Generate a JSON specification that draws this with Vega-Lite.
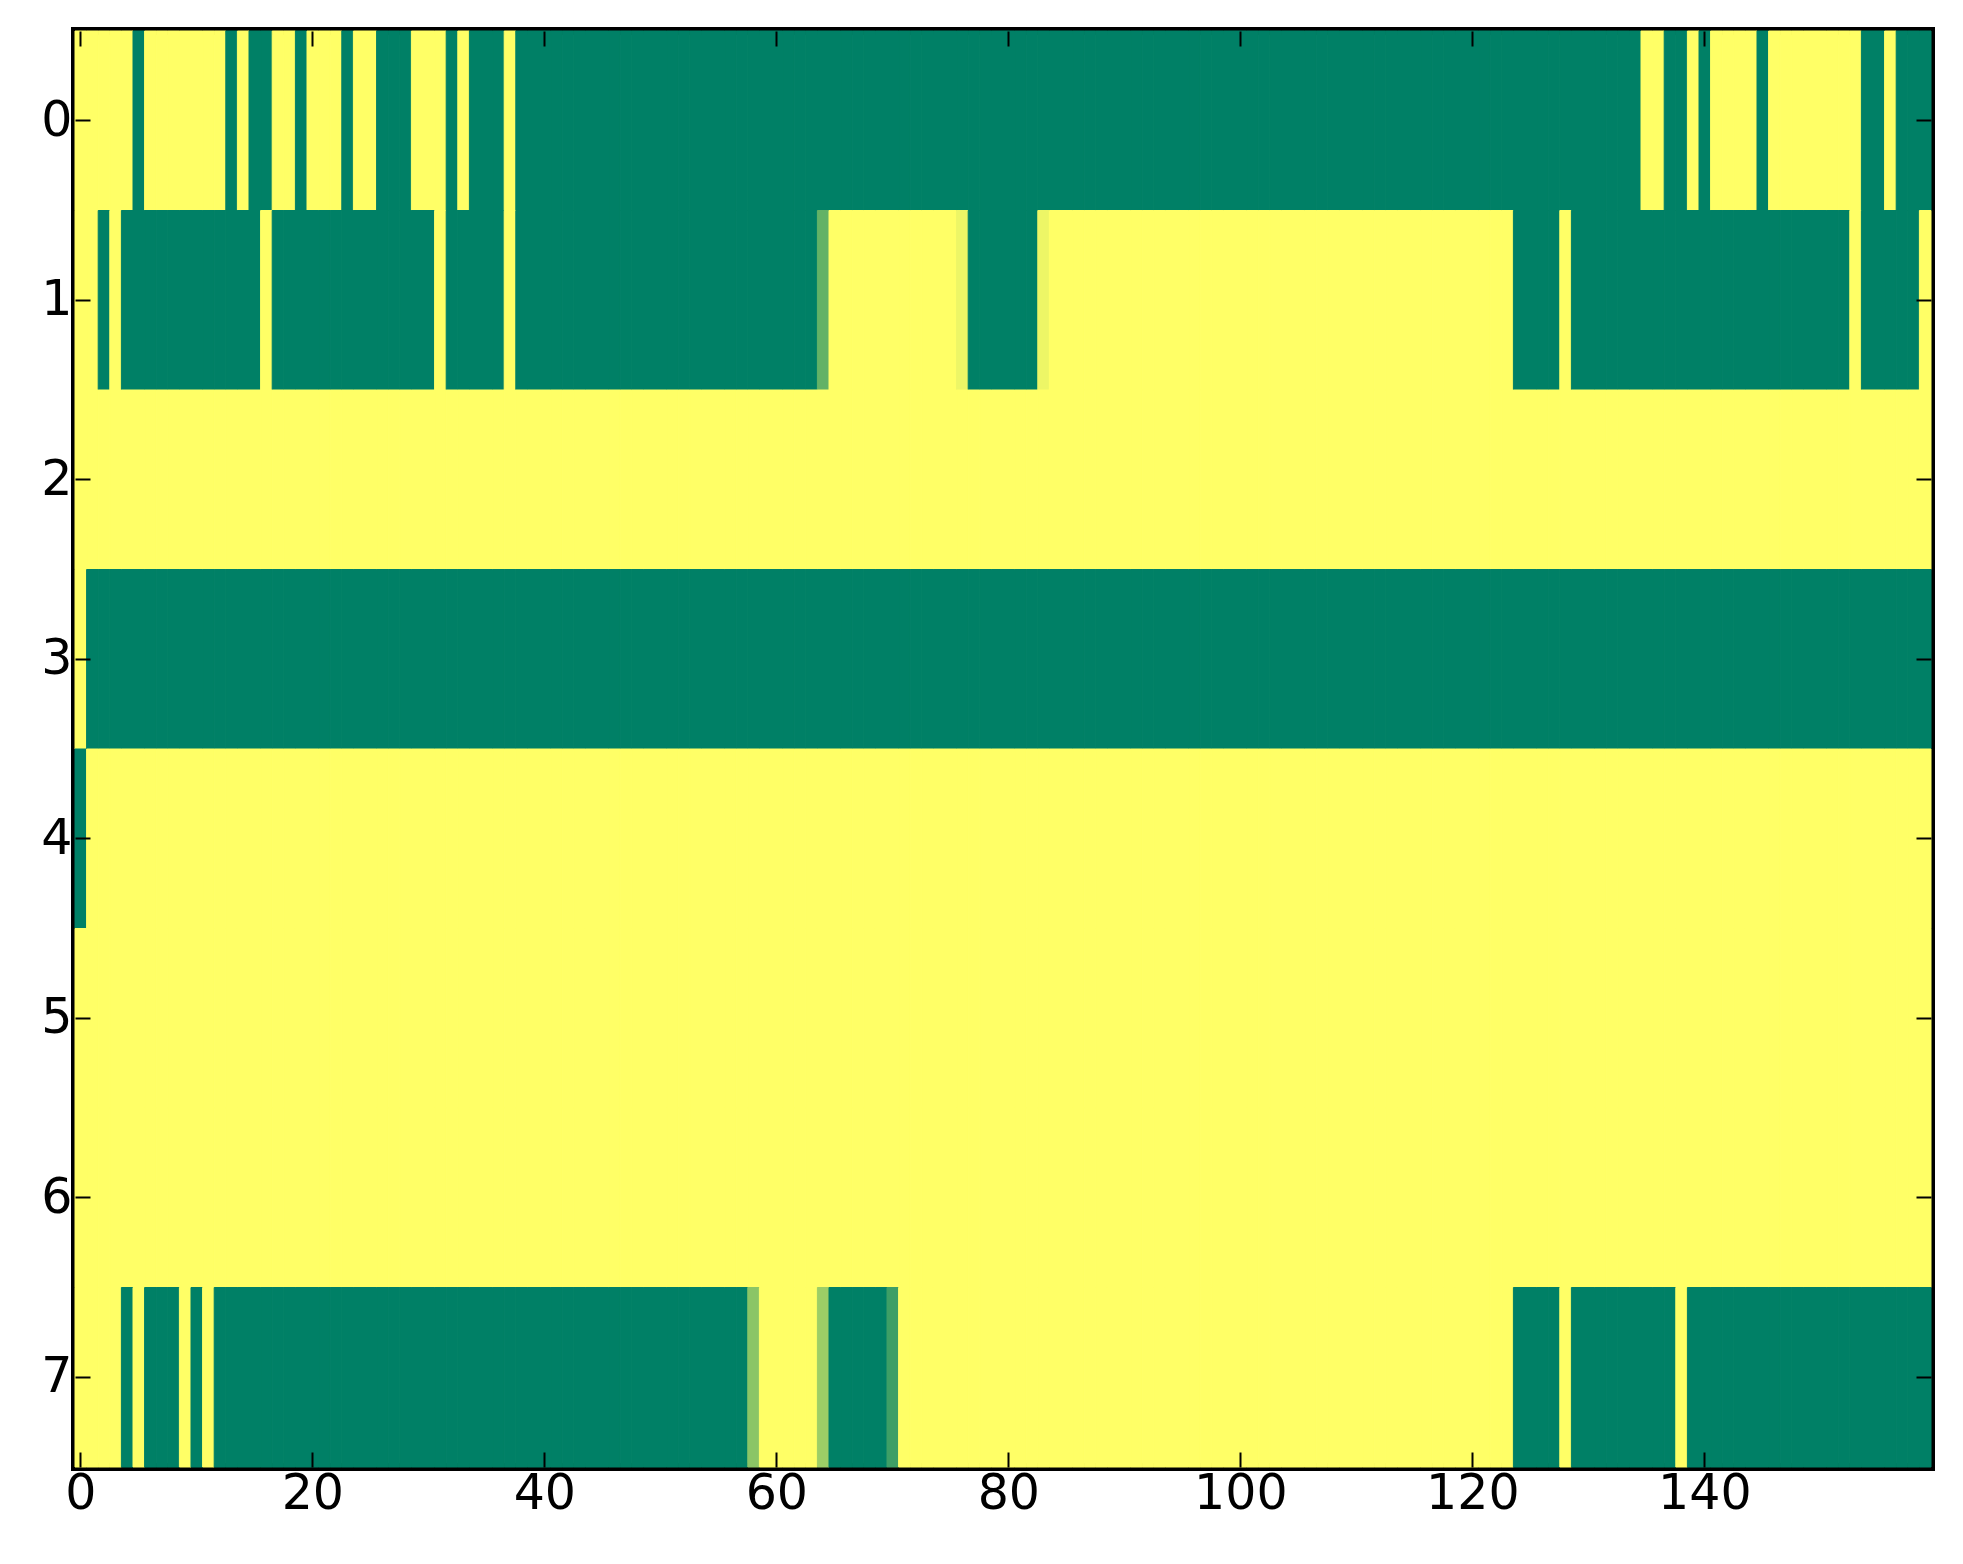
{"$schema":"https://vega.github.io/schema/vega-lite/v6.json","autosize":{"type":"none"},"width":1856,"height":1436,"padding":{"left":75,"top":31,"right":32,"bottom":97},"background":"white","config":{"view":{"stroke":"#000000","strokeWidth":8},"font":"DejaVu Sans"},
"data":{"values":[
{"r":0,"c":0,"v":1},{"r":0,"c":1,"v":1},{"r":0,"c":2,"v":1},{"r":0,"c":3,"v":1},{"r":0,"c":4,"v":1},{"r":0,"c":5,"v":0},{"r":0,"c":6,"v":1},{"r":0,"c":7,"v":1},{"r":0,"c":8,"v":1},{"r":0,"c":9,"v":1},{"r":0,"c":10,"v":1},{"r":0,"c":11,"v":1},{"r":0,"c":12,"v":1},{"r":0,"c":13,"v":0},{"r":0,"c":14,"v":1},{"r":0,"c":15,"v":0},{"r":0,"c":16,"v":0},{"r":0,"c":17,"v":1},{"r":0,"c":18,"v":1},{"r":0,"c":19,"v":0},{"r":0,"c":20,"v":1},{"r":0,"c":21,"v":1},{"r":0,"c":22,"v":1},{"r":0,"c":23,"v":0},{"r":0,"c":24,"v":1},{"r":0,"c":25,"v":1},{"r":0,"c":26,"v":0},{"r":0,"c":27,"v":0},{"r":0,"c":28,"v":0},{"r":0,"c":29,"v":1},{"r":0,"c":30,"v":1},{"r":0,"c":31,"v":1},{"r":0,"c":32,"v":0},{"r":0,"c":33,"v":1},{"r":0,"c":34,"v":0},{"r":0,"c":35,"v":0},{"r":0,"c":36,"v":0},{"r":0,"c":37,"v":1},{"r":0,"c":38,"v":0},{"r":0,"c":39,"v":0},
{"r":0,"c":40,"v":0},{"r":0,"c":41,"v":0},{"r":0,"c":42,"v":0},{"r":0,"c":43,"v":0},{"r":0,"c":44,"v":0},{"r":0,"c":45,"v":0},{"r":0,"c":46,"v":0},{"r":0,"c":47,"v":0},{"r":0,"c":48,"v":0},{"r":0,"c":49,"v":0},{"r":0,"c":50,"v":0},{"r":0,"c":51,"v":0},{"r":0,"c":52,"v":0},{"r":0,"c":53,"v":0},{"r":0,"c":54,"v":0},{"r":0,"c":55,"v":0},{"r":0,"c":56,"v":0},{"r":0,"c":57,"v":0},{"r":0,"c":58,"v":0},{"r":0,"c":59,"v":0},{"r":0,"c":60,"v":0},{"r":0,"c":61,"v":0},{"r":0,"c":62,"v":0},{"r":0,"c":63,"v":0},{"r":0,"c":64,"v":0},{"r":0,"c":65,"v":0},{"r":0,"c":66,"v":0},{"r":0,"c":67,"v":0},{"r":0,"c":68,"v":0},{"r":0,"c":69,"v":0},{"r":0,"c":70,"v":0},{"r":0,"c":71,"v":0},{"r":0,"c":72,"v":0},{"r":0,"c":73,"v":0},{"r":0,"c":74,"v":0},{"r":0,"c":75,"v":0},{"r":0,"c":76,"v":0},{"r":0,"c":77,"v":0},{"r":0,"c":78,"v":0},{"r":0,"c":79,"v":0},
{"r":0,"c":80,"v":0},{"r":0,"c":81,"v":0},{"r":0,"c":82,"v":0},{"r":0,"c":83,"v":0},{"r":0,"c":84,"v":0},{"r":0,"c":85,"v":0},{"r":0,"c":86,"v":0},{"r":0,"c":87,"v":0},{"r":0,"c":88,"v":0},{"r":0,"c":89,"v":0},{"r":0,"c":90,"v":0},{"r":0,"c":91,"v":0},{"r":0,"c":92,"v":0},{"r":0,"c":93,"v":0},{"r":0,"c":94,"v":0},{"r":0,"c":95,"v":0},{"r":0,"c":96,"v":0},{"r":0,"c":97,"v":0},{"r":0,"c":98,"v":0},{"r":0,"c":99,"v":0},{"r":0,"c":100,"v":0},{"r":0,"c":101,"v":0},{"r":0,"c":102,"v":0},{"r":0,"c":103,"v":0},{"r":0,"c":104,"v":0},{"r":0,"c":105,"v":0},{"r":0,"c":106,"v":0},{"r":0,"c":107,"v":0},{"r":0,"c":108,"v":0},{"r":0,"c":109,"v":0},{"r":0,"c":110,"v":0},{"r":0,"c":111,"v":0},{"r":0,"c":112,"v":0},{"r":0,"c":113,"v":0},{"r":0,"c":114,"v":0},{"r":0,"c":115,"v":0},{"r":0,"c":116,"v":0},{"r":0,"c":117,"v":0},{"r":0,"c":118,"v":0},{"r":0,"c":119,"v":0},
{"r":0,"c":120,"v":0},{"r":0,"c":121,"v":0},{"r":0,"c":122,"v":0},{"r":0,"c":123,"v":0},{"r":0,"c":124,"v":0},{"r":0,"c":125,"v":0},{"r":0,"c":126,"v":0},{"r":0,"c":127,"v":0},{"r":0,"c":128,"v":0},{"r":0,"c":129,"v":0},{"r":0,"c":130,"v":0},{"r":0,"c":131,"v":0},{"r":0,"c":132,"v":0},{"r":0,"c":133,"v":0},{"r":0,"c":134,"v":0},{"r":0,"c":135,"v":1},{"r":0,"c":136,"v":1},{"r":0,"c":137,"v":0},{"r":0,"c":138,"v":0},{"r":0,"c":139,"v":1},{"r":0,"c":140,"v":0},{"r":0,"c":141,"v":1},{"r":0,"c":142,"v":1},{"r":0,"c":143,"v":1},{"r":0,"c":144,"v":1},{"r":0,"c":145,"v":0},{"r":0,"c":146,"v":1},{"r":0,"c":147,"v":1},{"r":0,"c":148,"v":1},{"r":0,"c":149,"v":1},{"r":0,"c":150,"v":1},{"r":0,"c":151,"v":1},{"r":0,"c":152,"v":1},{"r":0,"c":153,"v":1},{"r":0,"c":154,"v":0},{"r":0,"c":155,"v":0},{"r":0,"c":156,"v":1},{"r":0,"c":157,"v":0},{"r":0,"c":158,"v":0},{"r":0,"c":159,"v":0},
{"r":1,"c":0,"v":1},{"r":1,"c":1,"v":1},{"r":1,"c":2,"v":0},{"r":1,"c":3,"v":1},{"r":1,"c":4,"v":0},{"r":1,"c":5,"v":0},{"r":1,"c":6,"v":0},{"r":1,"c":7,"v":0},{"r":1,"c":8,"v":0},{"r":1,"c":9,"v":0},{"r":1,"c":10,"v":0},{"r":1,"c":11,"v":0},{"r":1,"c":12,"v":0},{"r":1,"c":13,"v":0},{"r":1,"c":14,"v":0},{"r":1,"c":15,"v":0},{"r":1,"c":16,"v":1},{"r":1,"c":17,"v":0},{"r":1,"c":18,"v":0},{"r":1,"c":19,"v":0},{"r":1,"c":20,"v":0},{"r":1,"c":21,"v":0},{"r":1,"c":22,"v":0},{"r":1,"c":23,"v":0},{"r":1,"c":24,"v":0},{"r":1,"c":25,"v":0},{"r":1,"c":26,"v":0},{"r":1,"c":27,"v":0},{"r":1,"c":28,"v":0},{"r":1,"c":29,"v":0},{"r":1,"c":30,"v":0},{"r":1,"c":31,"v":1},{"r":1,"c":32,"v":0},{"r":1,"c":33,"v":0},{"r":1,"c":34,"v":0},{"r":1,"c":35,"v":0},{"r":1,"c":36,"v":0},{"r":1,"c":37,"v":1},{"r":1,"c":38,"v":0},{"r":1,"c":39,"v":0},
{"r":1,"c":40,"v":0},{"r":1,"c":41,"v":0},{"r":1,"c":42,"v":0},{"r":1,"c":43,"v":0},{"r":1,"c":44,"v":0},{"r":1,"c":45,"v":0},{"r":1,"c":46,"v":0},{"r":1,"c":47,"v":0},{"r":1,"c":48,"v":0},{"r":1,"c":49,"v":0},{"r":1,"c":50,"v":0},{"r":1,"c":51,"v":0},{"r":1,"c":52,"v":0},{"r":1,"c":53,"v":0},{"r":1,"c":54,"v":0},{"r":1,"c":55,"v":0},{"r":1,"c":56,"v":0},{"r":1,"c":57,"v":0},{"r":1,"c":58,"v":0},{"r":1,"c":59,"v":0},{"r":1,"c":60,"v":0},{"r":1,"c":61,"v":0},{"r":1,"c":62,"v":0},{"r":1,"c":63,"v":0},{"r":1,"c":64,"v":0.39},{"r":1,"c":65,"v":1},{"r":1,"c":66,"v":1},{"r":1,"c":67,"v":1},{"r":1,"c":68,"v":1},{"r":1,"c":69,"v":1},{"r":1,"c":70,"v":1},{"r":1,"c":71,"v":1},{"r":1,"c":72,"v":1},{"r":1,"c":73,"v":1},{"r":1,"c":74,"v":1},{"r":1,"c":75,"v":1},{"r":1,"c":76,"v":0.93},{"r":1,"c":77,"v":0},{"r":1,"c":78,"v":0},{"r":1,"c":79,"v":0},
{"r":1,"c":80,"v":0},{"r":1,"c":81,"v":0},{"r":1,"c":82,"v":0},{"r":1,"c":83,"v":0.93},{"r":1,"c":84,"v":1},{"r":1,"c":85,"v":1},{"r":1,"c":86,"v":1},{"r":1,"c":87,"v":1},{"r":1,"c":88,"v":1},{"r":1,"c":89,"v":1},{"r":1,"c":90,"v":1},{"r":1,"c":91,"v":1},{"r":1,"c":92,"v":1},{"r":1,"c":93,"v":1},{"r":1,"c":94,"v":1},{"r":1,"c":95,"v":1},{"r":1,"c":96,"v":1},{"r":1,"c":97,"v":1},{"r":1,"c":98,"v":1},{"r":1,"c":99,"v":1},{"r":1,"c":100,"v":1},{"r":1,"c":101,"v":1},{"r":1,"c":102,"v":1},{"r":1,"c":103,"v":1},{"r":1,"c":104,"v":1},{"r":1,"c":105,"v":1},{"r":1,"c":106,"v":1},{"r":1,"c":107,"v":1},{"r":1,"c":108,"v":1},{"r":1,"c":109,"v":1},{"r":1,"c":110,"v":1},{"r":1,"c":111,"v":1},{"r":1,"c":112,"v":1},{"r":1,"c":113,"v":1},{"r":1,"c":114,"v":1},{"r":1,"c":115,"v":1},{"r":1,"c":116,"v":1},{"r":1,"c":117,"v":1},{"r":1,"c":118,"v":1},{"r":1,"c":119,"v":1},
{"r":1,"c":120,"v":1},{"r":1,"c":121,"v":1},{"r":1,"c":122,"v":1},{"r":1,"c":123,"v":1},{"r":1,"c":124,"v":0},{"r":1,"c":125,"v":0},{"r":1,"c":126,"v":0},{"r":1,"c":127,"v":0},{"r":1,"c":128,"v":1},{"r":1,"c":129,"v":0},{"r":1,"c":130,"v":0},{"r":1,"c":131,"v":0},{"r":1,"c":132,"v":0},{"r":1,"c":133,"v":0},{"r":1,"c":134,"v":0},{"r":1,"c":135,"v":0},{"r":1,"c":136,"v":0},{"r":1,"c":137,"v":0},{"r":1,"c":138,"v":0},{"r":1,"c":139,"v":0},{"r":1,"c":140,"v":0},{"r":1,"c":141,"v":0},{"r":1,"c":142,"v":0},{"r":1,"c":143,"v":0},{"r":1,"c":144,"v":0},{"r":1,"c":145,"v":0},{"r":1,"c":146,"v":0},{"r":1,"c":147,"v":0},{"r":1,"c":148,"v":0},{"r":1,"c":149,"v":0},{"r":1,"c":150,"v":0},{"r":1,"c":151,"v":0},{"r":1,"c":152,"v":0},{"r":1,"c":153,"v":1},{"r":1,"c":154,"v":0},{"r":1,"c":155,"v":0},{"r":1,"c":156,"v":0},{"r":1,"c":157,"v":0},{"r":1,"c":158,"v":0},{"r":1,"c":159,"v":1},
{"r":2,"c":0,"v":1},{"r":2,"c":1,"v":1},{"r":2,"c":2,"v":1},{"r":2,"c":3,"v":1},{"r":2,"c":4,"v":1},{"r":2,"c":5,"v":1},{"r":2,"c":6,"v":1},{"r":2,"c":7,"v":1},{"r":2,"c":8,"v":1},{"r":2,"c":9,"v":1},{"r":2,"c":10,"v":1},{"r":2,"c":11,"v":1},{"r":2,"c":12,"v":1},{"r":2,"c":13,"v":1},{"r":2,"c":14,"v":1},{"r":2,"c":15,"v":1},{"r":2,"c":16,"v":1},{"r":2,"c":17,"v":1},{"r":2,"c":18,"v":1},{"r":2,"c":19,"v":1},{"r":2,"c":20,"v":1},{"r":2,"c":21,"v":1},{"r":2,"c":22,"v":1},{"r":2,"c":23,"v":1},{"r":2,"c":24,"v":1},{"r":2,"c":25,"v":1},{"r":2,"c":26,"v":1},{"r":2,"c":27,"v":1},{"r":2,"c":28,"v":1},{"r":2,"c":29,"v":1},{"r":2,"c":30,"v":1},{"r":2,"c":31,"v":1},{"r":2,"c":32,"v":1},{"r":2,"c":33,"v":1},{"r":2,"c":34,"v":1},{"r":2,"c":35,"v":1},{"r":2,"c":36,"v":1},{"r":2,"c":37,"v":1},{"r":2,"c":38,"v":1},{"r":2,"c":39,"v":1},
{"r":2,"c":40,"v":1},{"r":2,"c":41,"v":1},{"r":2,"c":42,"v":1},{"r":2,"c":43,"v":1},{"r":2,"c":44,"v":1},{"r":2,"c":45,"v":1},{"r":2,"c":46,"v":1},{"r":2,"c":47,"v":1},{"r":2,"c":48,"v":1},{"r":2,"c":49,"v":1},{"r":2,"c":50,"v":1},{"r":2,"c":51,"v":1},{"r":2,"c":52,"v":1},{"r":2,"c":53,"v":1},{"r":2,"c":54,"v":1},{"r":2,"c":55,"v":1},{"r":2,"c":56,"v":1},{"r":2,"c":57,"v":1},{"r":2,"c":58,"v":1},{"r":2,"c":59,"v":1},{"r":2,"c":60,"v":1},{"r":2,"c":61,"v":1},{"r":2,"c":62,"v":1},{"r":2,"c":63,"v":1},{"r":2,"c":64,"v":1},{"r":2,"c":65,"v":1},{"r":2,"c":66,"v":1},{"r":2,"c":67,"v":1},{"r":2,"c":68,"v":1},{"r":2,"c":69,"v":1},{"r":2,"c":70,"v":1},{"r":2,"c":71,"v":1},{"r":2,"c":72,"v":1},{"r":2,"c":73,"v":1},{"r":2,"c":74,"v":1},{"r":2,"c":75,"v":1},{"r":2,"c":76,"v":1},{"r":2,"c":77,"v":1},{"r":2,"c":78,"v":1},{"r":2,"c":79,"v":1},
{"r":2,"c":80,"v":1},{"r":2,"c":81,"v":1},{"r":2,"c":82,"v":1},{"r":2,"c":83,"v":1},{"r":2,"c":84,"v":1},{"r":2,"c":85,"v":1},{"r":2,"c":86,"v":1},{"r":2,"c":87,"v":1},{"r":2,"c":88,"v":1},{"r":2,"c":89,"v":1},{"r":2,"c":90,"v":1},{"r":2,"c":91,"v":1},{"r":2,"c":92,"v":1},{"r":2,"c":93,"v":1},{"r":2,"c":94,"v":1},{"r":2,"c":95,"v":1},{"r":2,"c":96,"v":1},{"r":2,"c":97,"v":1},{"r":2,"c":98,"v":1},{"r":2,"c":99,"v":1},{"r":2,"c":100,"v":1},{"r":2,"c":101,"v":1},{"r":2,"c":102,"v":1},{"r":2,"c":103,"v":1},{"r":2,"c":104,"v":1},{"r":2,"c":105,"v":1},{"r":2,"c":106,"v":1},{"r":2,"c":107,"v":1},{"r":2,"c":108,"v":1},{"r":2,"c":109,"v":1},{"r":2,"c":110,"v":1},{"r":2,"c":111,"v":1},{"r":2,"c":112,"v":1},{"r":2,"c":113,"v":1},{"r":2,"c":114,"v":1},{"r":2,"c":115,"v":1},{"r":2,"c":116,"v":1},{"r":2,"c":117,"v":1},{"r":2,"c":118,"v":1},{"r":2,"c":119,"v":1},
{"r":2,"c":120,"v":1},{"r":2,"c":121,"v":1},{"r":2,"c":122,"v":1},{"r":2,"c":123,"v":1},{"r":2,"c":124,"v":1},{"r":2,"c":125,"v":1},{"r":2,"c":126,"v":1},{"r":2,"c":127,"v":1},{"r":2,"c":128,"v":1},{"r":2,"c":129,"v":1},{"r":2,"c":130,"v":1},{"r":2,"c":131,"v":1},{"r":2,"c":132,"v":1},{"r":2,"c":133,"v":1},{"r":2,"c":134,"v":1},{"r":2,"c":135,"v":1},{"r":2,"c":136,"v":1},{"r":2,"c":137,"v":1},{"r":2,"c":138,"v":1},{"r":2,"c":139,"v":1},{"r":2,"c":140,"v":1},{"r":2,"c":141,"v":1},{"r":2,"c":142,"v":1},{"r":2,"c":143,"v":1},{"r":2,"c":144,"v":1},{"r":2,"c":145,"v":1},{"r":2,"c":146,"v":1},{"r":2,"c":147,"v":1},{"r":2,"c":148,"v":1},{"r":2,"c":149,"v":1},{"r":2,"c":150,"v":1},{"r":2,"c":151,"v":1},{"r":2,"c":152,"v":1},{"r":2,"c":153,"v":1},{"r":2,"c":154,"v":1},{"r":2,"c":155,"v":1},{"r":2,"c":156,"v":1},{"r":2,"c":157,"v":1},{"r":2,"c":158,"v":1},{"r":2,"c":159,"v":1},
{"r":3,"c":0,"v":1},{"r":3,"c":1,"v":0},{"r":3,"c":2,"v":0},{"r":3,"c":3,"v":0},{"r":3,"c":4,"v":0},{"r":3,"c":5,"v":0},{"r":3,"c":6,"v":0},{"r":3,"c":7,"v":0},{"r":3,"c":8,"v":0},{"r":3,"c":9,"v":0},{"r":3,"c":10,"v":0},{"r":3,"c":11,"v":0},{"r":3,"c":12,"v":0},{"r":3,"c":13,"v":0},{"r":3,"c":14,"v":0},{"r":3,"c":15,"v":0},{"r":3,"c":16,"v":0},{"r":3,"c":17,"v":0},{"r":3,"c":18,"v":0},{"r":3,"c":19,"v":0},{"r":3,"c":20,"v":0},{"r":3,"c":21,"v":0},{"r":3,"c":22,"v":0},{"r":3,"c":23,"v":0},{"r":3,"c":24,"v":0},{"r":3,"c":25,"v":0},{"r":3,"c":26,"v":0},{"r":3,"c":27,"v":0},{"r":3,"c":28,"v":0},{"r":3,"c":29,"v":0},{"r":3,"c":30,"v":0},{"r":3,"c":31,"v":0},{"r":3,"c":32,"v":0},{"r":3,"c":33,"v":0},{"r":3,"c":34,"v":0},{"r":3,"c":35,"v":0},{"r":3,"c":36,"v":0},{"r":3,"c":37,"v":0},{"r":3,"c":38,"v":0},{"r":3,"c":39,"v":0},
{"r":3,"c":40,"v":0},{"r":3,"c":41,"v":0},{"r":3,"c":42,"v":0},{"r":3,"c":43,"v":0},{"r":3,"c":44,"v":0},{"r":3,"c":45,"v":0},{"r":3,"c":46,"v":0},{"r":3,"c":47,"v":0},{"r":3,"c":48,"v":0},{"r":3,"c":49,"v":0},{"r":3,"c":50,"v":0},{"r":3,"c":51,"v":0},{"r":3,"c":52,"v":0},{"r":3,"c":53,"v":0},{"r":3,"c":54,"v":0},{"r":3,"c":55,"v":0},{"r":3,"c":56,"v":0},{"r":3,"c":57,"v":0},{"r":3,"c":58,"v":0},{"r":3,"c":59,"v":0},{"r":3,"c":60,"v":0},{"r":3,"c":61,"v":0},{"r":3,"c":62,"v":0},{"r":3,"c":63,"v":0},{"r":3,"c":64,"v":0},{"r":3,"c":65,"v":0},{"r":3,"c":66,"v":0},{"r":3,"c":67,"v":0},{"r":3,"c":68,"v":0},{"r":3,"c":69,"v":0},{"r":3,"c":70,"v":0},{"r":3,"c":71,"v":0},{"r":3,"c":72,"v":0},{"r":3,"c":73,"v":0},{"r":3,"c":74,"v":0},{"r":3,"c":75,"v":0},{"r":3,"c":76,"v":0},{"r":3,"c":77,"v":0},{"r":3,"c":78,"v":0},{"r":3,"c":79,"v":0},
{"r":3,"c":80,"v":0},{"r":3,"c":81,"v":0},{"r":3,"c":82,"v":0},{"r":3,"c":83,"v":0},{"r":3,"c":84,"v":0},{"r":3,"c":85,"v":0},{"r":3,"c":86,"v":0},{"r":3,"c":87,"v":0},{"r":3,"c":88,"v":0},{"r":3,"c":89,"v":0},{"r":3,"c":90,"v":0},{"r":3,"c":91,"v":0},{"r":3,"c":92,"v":0},{"r":3,"c":93,"v":0},{"r":3,"c":94,"v":0},{"r":3,"c":95,"v":0},{"r":3,"c":96,"v":0},{"r":3,"c":97,"v":0},{"r":3,"c":98,"v":0},{"r":3,"c":99,"v":0},{"r":3,"c":100,"v":0},{"r":3,"c":101,"v":0},{"r":3,"c":102,"v":0},{"r":3,"c":103,"v":0},{"r":3,"c":104,"v":0},{"r":3,"c":105,"v":0},{"r":3,"c":106,"v":0},{"r":3,"c":107,"v":0},{"r":3,"c":108,"v":0},{"r":3,"c":109,"v":0},{"r":3,"c":110,"v":0},{"r":3,"c":111,"v":0},{"r":3,"c":112,"v":0},{"r":3,"c":113,"v":0},{"r":3,"c":114,"v":0},{"r":3,"c":115,"v":0},{"r":3,"c":116,"v":0},{"r":3,"c":117,"v":0},{"r":3,"c":118,"v":0},{"r":3,"c":119,"v":0},
{"r":3,"c":120,"v":0},{"r":3,"c":121,"v":0},{"r":3,"c":122,"v":0},{"r":3,"c":123,"v":0},{"r":3,"c":124,"v":0},{"r":3,"c":125,"v":0},{"r":3,"c":126,"v":0},{"r":3,"c":127,"v":0},{"r":3,"c":128,"v":0},{"r":3,"c":129,"v":0},{"r":3,"c":130,"v":0},{"r":3,"c":131,"v":0},{"r":3,"c":132,"v":0},{"r":3,"c":133,"v":0},{"r":3,"c":134,"v":0},{"r":3,"c":135,"v":0},{"r":3,"c":136,"v":0},{"r":3,"c":137,"v":0},{"r":3,"c":138,"v":0},{"r":3,"c":139,"v":0},{"r":3,"c":140,"v":0},{"r":3,"c":141,"v":0},{"r":3,"c":142,"v":0},{"r":3,"c":143,"v":0},{"r":3,"c":144,"v":0},{"r":3,"c":145,"v":0},{"r":3,"c":146,"v":0},{"r":3,"c":147,"v":0},{"r":3,"c":148,"v":0},{"r":3,"c":149,"v":0},{"r":3,"c":150,"v":0},{"r":3,"c":151,"v":0},{"r":3,"c":152,"v":0},{"r":3,"c":153,"v":0},{"r":3,"c":154,"v":0},{"r":3,"c":155,"v":0},{"r":3,"c":156,"v":0},{"r":3,"c":157,"v":0},{"r":3,"c":158,"v":0},{"r":3,"c":159,"v":0},
{"r":4,"c":0,"v":0},{"r":4,"c":1,"v":1},{"r":4,"c":2,"v":1},{"r":4,"c":3,"v":1},{"r":4,"c":4,"v":1},{"r":4,"c":5,"v":1},{"r":4,"c":6,"v":1},{"r":4,"c":7,"v":1},{"r":4,"c":8,"v":1},{"r":4,"c":9,"v":1},{"r":4,"c":10,"v":1},{"r":4,"c":11,"v":1},{"r":4,"c":12,"v":1},{"r":4,"c":13,"v":1},{"r":4,"c":14,"v":1},{"r":4,"c":15,"v":1},{"r":4,"c":16,"v":1},{"r":4,"c":17,"v":1},{"r":4,"c":18,"v":1},{"r":4,"c":19,"v":1},{"r":4,"c":20,"v":1},{"r":4,"c":21,"v":1},{"r":4,"c":22,"v":1},{"r":4,"c":23,"v":1},{"r":4,"c":24,"v":1},{"r":4,"c":25,"v":1},{"r":4,"c":26,"v":1},{"r":4,"c":27,"v":1},{"r":4,"c":28,"v":1},{"r":4,"c":29,"v":1},{"r":4,"c":30,"v":1},{"r":4,"c":31,"v":1},{"r":4,"c":32,"v":1},{"r":4,"c":33,"v":1},{"r":4,"c":34,"v":1},{"r":4,"c":35,"v":1},{"r":4,"c":36,"v":1},{"r":4,"c":37,"v":1},{"r":4,"c":38,"v":1},{"r":4,"c":39,"v":1},
{"r":4,"c":40,"v":1},{"r":4,"c":41,"v":1},{"r":4,"c":42,"v":1},{"r":4,"c":43,"v":1},{"r":4,"c":44,"v":1},{"r":4,"c":45,"v":1},{"r":4,"c":46,"v":1},{"r":4,"c":47,"v":1},{"r":4,"c":48,"v":1},{"r":4,"c":49,"v":1},{"r":4,"c":50,"v":1},{"r":4,"c":51,"v":1},{"r":4,"c":52,"v":1},{"r":4,"c":53,"v":1},{"r":4,"c":54,"v":1},{"r":4,"c":55,"v":1},{"r":4,"c":56,"v":1},{"r":4,"c":57,"v":1},{"r":4,"c":58,"v":1},{"r":4,"c":59,"v":1},{"r":4,"c":60,"v":1},{"r":4,"c":61,"v":1},{"r":4,"c":62,"v":1},{"r":4,"c":63,"v":1},{"r":4,"c":64,"v":1},{"r":4,"c":65,"v":1},{"r":4,"c":66,"v":1},{"r":4,"c":67,"v":1},{"r":4,"c":68,"v":1},{"r":4,"c":69,"v":1},{"r":4,"c":70,"v":1},{"r":4,"c":71,"v":1},{"r":4,"c":72,"v":1},{"r":4,"c":73,"v":1},{"r":4,"c":74,"v":1},{"r":4,"c":75,"v":1},{"r":4,"c":76,"v":1},{"r":4,"c":77,"v":1},{"r":4,"c":78,"v":1},{"r":4,"c":79,"v":1},
{"r":4,"c":80,"v":1},{"r":4,"c":81,"v":1},{"r":4,"c":82,"v":1},{"r":4,"c":83,"v":1},{"r":4,"c":84,"v":1},{"r":4,"c":85,"v":1},{"r":4,"c":86,"v":1},{"r":4,"c":87,"v":1},{"r":4,"c":88,"v":1},{"r":4,"c":89,"v":1},{"r":4,"c":90,"v":1},{"r":4,"c":91,"v":1},{"r":4,"c":92,"v":1},{"r":4,"c":93,"v":1},{"r":4,"c":94,"v":1},{"r":4,"c":95,"v":1},{"r":4,"c":96,"v":1},{"r":4,"c":97,"v":1},{"r":4,"c":98,"v":1},{"r":4,"c":99,"v":1},{"r":4,"c":100,"v":1},{"r":4,"c":101,"v":1},{"r":4,"c":102,"v":1},{"r":4,"c":103,"v":1},{"r":4,"c":104,"v":1},{"r":4,"c":105,"v":1},{"r":4,"c":106,"v":1},{"r":4,"c":107,"v":1},{"r":4,"c":108,"v":1},{"r":4,"c":109,"v":1},{"r":4,"c":110,"v":1},{"r":4,"c":111,"v":1},{"r":4,"c":112,"v":1},{"r":4,"c":113,"v":1},{"r":4,"c":114,"v":1},{"r":4,"c":115,"v":1},{"r":4,"c":116,"v":1},{"r":4,"c":117,"v":1},{"r":4,"c":118,"v":1},{"r":4,"c":119,"v":1},
{"r":4,"c":120,"v":1},{"r":4,"c":121,"v":1},{"r":4,"c":122,"v":1},{"r":4,"c":123,"v":1},{"r":4,"c":124,"v":1},{"r":4,"c":125,"v":1},{"r":4,"c":126,"v":1},{"r":4,"c":127,"v":1},{"r":4,"c":128,"v":1},{"r":4,"c":129,"v":1},{"r":4,"c":130,"v":1},{"r":4,"c":131,"v":1},{"r":4,"c":132,"v":1},{"r":4,"c":133,"v":1},{"r":4,"c":134,"v":1},{"r":4,"c":135,"v":1},{"r":4,"c":136,"v":1},{"r":4,"c":137,"v":1},{"r":4,"c":138,"v":1},{"r":4,"c":139,"v":1},{"r":4,"c":140,"v":1},{"r":4,"c":141,"v":1},{"r":4,"c":142,"v":1},{"r":4,"c":143,"v":1},{"r":4,"c":144,"v":1},{"r":4,"c":145,"v":1},{"r":4,"c":146,"v":1},{"r":4,"c":147,"v":1},{"r":4,"c":148,"v":1},{"r":4,"c":149,"v":1},{"r":4,"c":150,"v":1},{"r":4,"c":151,"v":1},{"r":4,"c":152,"v":1},{"r":4,"c":153,"v":1},{"r":4,"c":154,"v":1},{"r":4,"c":155,"v":1},{"r":4,"c":156,"v":1},{"r":4,"c":157,"v":1},{"r":4,"c":158,"v":1},{"r":4,"c":159,"v":1},
{"r":5,"c":0,"v":1},{"r":5,"c":1,"v":1},{"r":5,"c":2,"v":1},{"r":5,"c":3,"v":1},{"r":5,"c":4,"v":1},{"r":5,"c":5,"v":1},{"r":5,"c":6,"v":1},{"r":5,"c":7,"v":1},{"r":5,"c":8,"v":1},{"r":5,"c":9,"v":1},{"r":5,"c":10,"v":1},{"r":5,"c":11,"v":1},{"r":5,"c":12,"v":1},{"r":5,"c":13,"v":1},{"r":5,"c":14,"v":1},{"r":5,"c":15,"v":1},{"r":5,"c":16,"v":1},{"r":5,"c":17,"v":1},{"r":5,"c":18,"v":1},{"r":5,"c":19,"v":1},{"r":5,"c":20,"v":1},{"r":5,"c":21,"v":1},{"r":5,"c":22,"v":1},{"r":5,"c":23,"v":1},{"r":5,"c":24,"v":1},{"r":5,"c":25,"v":1},{"r":5,"c":26,"v":1},{"r":5,"c":27,"v":1},{"r":5,"c":28,"v":1},{"r":5,"c":29,"v":1},{"r":5,"c":30,"v":1},{"r":5,"c":31,"v":1},{"r":5,"c":32,"v":1},{"r":5,"c":33,"v":1},{"r":5,"c":34,"v":1},{"r":5,"c":35,"v":1},{"r":5,"c":36,"v":1},{"r":5,"c":37,"v":1},{"r":5,"c":38,"v":1},{"r":5,"c":39,"v":1},
{"r":5,"c":40,"v":1},{"r":5,"c":41,"v":1},{"r":5,"c":42,"v":1},{"r":5,"c":43,"v":1},{"r":5,"c":44,"v":1},{"r":5,"c":45,"v":1},{"r":5,"c":46,"v":1},{"r":5,"c":47,"v":1},{"r":5,"c":48,"v":1},{"r":5,"c":49,"v":1},{"r":5,"c":50,"v":1},{"r":5,"c":51,"v":1},{"r":5,"c":52,"v":1},{"r":5,"c":53,"v":1},{"r":5,"c":54,"v":1},{"r":5,"c":55,"v":1},{"r":5,"c":56,"v":1},{"r":5,"c":57,"v":1},{"r":5,"c":58,"v":1},{"r":5,"c":59,"v":1},{"r":5,"c":60,"v":1},{"r":5,"c":61,"v":1},{"r":5,"c":62,"v":1},{"r":5,"c":63,"v":1},{"r":5,"c":64,"v":1},{"r":5,"c":65,"v":1},{"r":5,"c":66,"v":1},{"r":5,"c":67,"v":1},{"r":5,"c":68,"v":1},{"r":5,"c":69,"v":1},{"r":5,"c":70,"v":1},{"r":5,"c":71,"v":1},{"r":5,"c":72,"v":1},{"r":5,"c":73,"v":1},{"r":5,"c":74,"v":1},{"r":5,"c":75,"v":1},{"r":5,"c":76,"v":1},{"r":5,"c":77,"v":1},{"r":5,"c":78,"v":1},{"r":5,"c":79,"v":1},
{"r":5,"c":80,"v":1},{"r":5,"c":81,"v":1},{"r":5,"c":82,"v":1},{"r":5,"c":83,"v":1},{"r":5,"c":84,"v":1},{"r":5,"c":85,"v":1},{"r":5,"c":86,"v":1},{"r":5,"c":87,"v":1},{"r":5,"c":88,"v":1},{"r":5,"c":89,"v":1},{"r":5,"c":90,"v":1},{"r":5,"c":91,"v":1},{"r":5,"c":92,"v":1},{"r":5,"c":93,"v":1},{"r":5,"c":94,"v":1},{"r":5,"c":95,"v":1},{"r":5,"c":96,"v":1},{"r":5,"c":97,"v":1},{"r":5,"c":98,"v":1},{"r":5,"c":99,"v":1},{"r":5,"c":100,"v":1},{"r":5,"c":101,"v":1},{"r":5,"c":102,"v":1},{"r":5,"c":103,"v":1},{"r":5,"c":104,"v":1},{"r":5,"c":105,"v":1},{"r":5,"c":106,"v":1},{"r":5,"c":107,"v":1},{"r":5,"c":108,"v":1},{"r":5,"c":109,"v":1},{"r":5,"c":110,"v":1},{"r":5,"c":111,"v":1},{"r":5,"c":112,"v":1},{"r":5,"c":113,"v":1},{"r":5,"c":114,"v":1},{"r":5,"c":115,"v":1},{"r":5,"c":116,"v":1},{"r":5,"c":117,"v":1},{"r":5,"c":118,"v":1},{"r":5,"c":119,"v":1},
{"r":5,"c":120,"v":1},{"r":5,"c":121,"v":1},{"r":5,"c":122,"v":1},{"r":5,"c":123,"v":1},{"r":5,"c":124,"v":1},{"r":5,"c":125,"v":1},{"r":5,"c":126,"v":1},{"r":5,"c":127,"v":1},{"r":5,"c":128,"v":1},{"r":5,"c":129,"v":1},{"r":5,"c":130,"v":1},{"r":5,"c":131,"v":1},{"r":5,"c":132,"v":1},{"r":5,"c":133,"v":1},{"r":5,"c":134,"v":1},{"r":5,"c":135,"v":1},{"r":5,"c":136,"v":1},{"r":5,"c":137,"v":1},{"r":5,"c":138,"v":1},{"r":5,"c":139,"v":1},{"r":5,"c":140,"v":1},{"r":5,"c":141,"v":1},{"r":5,"c":142,"v":1},{"r":5,"c":143,"v":1},{"r":5,"c":144,"v":1},{"r":5,"c":145,"v":1},{"r":5,"c":146,"v":1},{"r":5,"c":147,"v":1},{"r":5,"c":148,"v":1},{"r":5,"c":149,"v":1},{"r":5,"c":150,"v":1},{"r":5,"c":151,"v":1},{"r":5,"c":152,"v":1},{"r":5,"c":153,"v":1},{"r":5,"c":154,"v":1},{"r":5,"c":155,"v":1},{"r":5,"c":156,"v":1},{"r":5,"c":157,"v":1},{"r":5,"c":158,"v":1},{"r":5,"c":159,"v":1},
{"r":6,"c":0,"v":1},{"r":6,"c":1,"v":1},{"r":6,"c":2,"v":1},{"r":6,"c":3,"v":1},{"r":6,"c":4,"v":1},{"r":6,"c":5,"v":1},{"r":6,"c":6,"v":1},{"r":6,"c":7,"v":1},{"r":6,"c":8,"v":1},{"r":6,"c":9,"v":1},{"r":6,"c":10,"v":1},{"r":6,"c":11,"v":1},{"r":6,"c":12,"v":1},{"r":6,"c":13,"v":1},{"r":6,"c":14,"v":1},{"r":6,"c":15,"v":1},{"r":6,"c":16,"v":1},{"r":6,"c":17,"v":1},{"r":6,"c":18,"v":1},{"r":6,"c":19,"v":1},{"r":6,"c":20,"v":1},{"r":6,"c":21,"v":1},{"r":6,"c":22,"v":1},{"r":6,"c":23,"v":1},{"r":6,"c":24,"v":1},{"r":6,"c":25,"v":1},{"r":6,"c":26,"v":1},{"r":6,"c":27,"v":1},{"r":6,"c":28,"v":1},{"r":6,"c":29,"v":1},{"r":6,"c":30,"v":1},{"r":6,"c":31,"v":1},{"r":6,"c":32,"v":1},{"r":6,"c":33,"v":1},{"r":6,"c":34,"v":1},{"r":6,"c":35,"v":1},{"r":6,"c":36,"v":1},{"r":6,"c":37,"v":1},{"r":6,"c":38,"v":1},{"r":6,"c":39,"v":1},
{"r":6,"c":40,"v":1},{"r":6,"c":41,"v":1},{"r":6,"c":42,"v":1},{"r":6,"c":43,"v":1},{"r":6,"c":44,"v":1},{"r":6,"c":45,"v":1},{"r":6,"c":46,"v":1},{"r":6,"c":47,"v":1},{"r":6,"c":48,"v":1},{"r":6,"c":49,"v":1},{"r":6,"c":50,"v":1},{"r":6,"c":51,"v":1},{"r":6,"c":52,"v":1},{"r":6,"c":53,"v":1},{"r":6,"c":54,"v":1},{"r":6,"c":55,"v":1},{"r":6,"c":56,"v":1},{"r":6,"c":57,"v":1},{"r":6,"c":58,"v":1},{"r":6,"c":59,"v":1},{"r":6,"c":60,"v":1},{"r":6,"c":61,"v":1},{"r":6,"c":62,"v":1},{"r":6,"c":63,"v":1},{"r":6,"c":64,"v":1},{"r":6,"c":65,"v":1},{"r":6,"c":66,"v":1},{"r":6,"c":67,"v":1},{"r":6,"c":68,"v":1},{"r":6,"c":69,"v":1},{"r":6,"c":70,"v":1},{"r":6,"c":71,"v":1},{"r":6,"c":72,"v":1},{"r":6,"c":73,"v":1},{"r":6,"c":74,"v":1},{"r":6,"c":75,"v":1},{"r":6,"c":76,"v":1},{"r":6,"c":77,"v":1},{"r":6,"c":78,"v":1},{"r":6,"c":79,"v":1},
{"r":6,"c":80,"v":1},{"r":6,"c":81,"v":1},{"r":6,"c":82,"v":1},{"r":6,"c":83,"v":1},{"r":6,"c":84,"v":1},{"r":6,"c":85,"v":1},{"r":6,"c":86,"v":1},{"r":6,"c":87,"v":1},{"r":6,"c":88,"v":1},{"r":6,"c":89,"v":1},{"r":6,"c":90,"v":1},{"r":6,"c":91,"v":1},{"r":6,"c":92,"v":1},{"r":6,"c":93,"v":1},{"r":6,"c":94,"v":1},{"r":6,"c":95,"v":1},{"r":6,"c":96,"v":1},{"r":6,"c":97,"v":1},{"r":6,"c":98,"v":1},{"r":6,"c":99,"v":1},{"r":6,"c":100,"v":1},{"r":6,"c":101,"v":1},{"r":6,"c":102,"v":1},{"r":6,"c":103,"v":1},{"r":6,"c":104,"v":1},{"r":6,"c":105,"v":1},{"r":6,"c":106,"v":1},{"r":6,"c":107,"v":1},{"r":6,"c":108,"v":1},{"r":6,"c":109,"v":1},{"r":6,"c":110,"v":1},{"r":6,"c":111,"v":1},{"r":6,"c":112,"v":1},{"r":6,"c":113,"v":1},{"r":6,"c":114,"v":1},{"r":6,"c":115,"v":1},{"r":6,"c":116,"v":1},{"r":6,"c":117,"v":1},{"r":6,"c":118,"v":1},{"r":6,"c":119,"v":1},
{"r":6,"c":120,"v":1},{"r":6,"c":121,"v":1},{"r":6,"c":122,"v":1},{"r":6,"c":123,"v":1},{"r":6,"c":124,"v":1},{"r":6,"c":125,"v":1},{"r":6,"c":126,"v":1},{"r":6,"c":127,"v":1},{"r":6,"c":128,"v":1},{"r":6,"c":129,"v":1},{"r":6,"c":130,"v":1},{"r":6,"c":131,"v":1},{"r":6,"c":132,"v":1},{"r":6,"c":133,"v":1},{"r":6,"c":134,"v":1},{"r":6,"c":135,"v":1},{"r":6,"c":136,"v":1},{"r":6,"c":137,"v":1},{"r":6,"c":138,"v":1},{"r":6,"c":139,"v":1},{"r":6,"c":140,"v":1},{"r":6,"c":141,"v":1},{"r":6,"c":142,"v":1},{"r":6,"c":143,"v":1},{"r":6,"c":144,"v":1},{"r":6,"c":145,"v":1},{"r":6,"c":146,"v":1},{"r":6,"c":147,"v":1},{"r":6,"c":148,"v":1},{"r":6,"c":149,"v":1},{"r":6,"c":150,"v":1},{"r":6,"c":151,"v":1},{"r":6,"c":152,"v":1},{"r":6,"c":153,"v":1},{"r":6,"c":154,"v":1},{"r":6,"c":155,"v":1},{"r":6,"c":156,"v":1},{"r":6,"c":157,"v":1},{"r":6,"c":158,"v":1},{"r":6,"c":159,"v":1},
{"r":7,"c":0,"v":1},{"r":7,"c":1,"v":1},{"r":7,"c":2,"v":1},{"r":7,"c":3,"v":1},{"r":7,"c":4,"v":0},{"r":7,"c":5,"v":1},{"r":7,"c":6,"v":0},{"r":7,"c":7,"v":0},{"r":7,"c":8,"v":0},{"r":7,"c":9,"v":1},{"r":7,"c":10,"v":0},{"r":7,"c":11,"v":1},{"r":7,"c":12,"v":0},{"r":7,"c":13,"v":0},{"r":7,"c":14,"v":0},{"r":7,"c":15,"v":0},{"r":7,"c":16,"v":0},{"r":7,"c":17,"v":0},{"r":7,"c":18,"v":0},{"r":7,"c":19,"v":0},{"r":7,"c":20,"v":0},{"r":7,"c":21,"v":0},{"r":7,"c":22,"v":0},{"r":7,"c":23,"v":0},{"r":7,"c":24,"v":0},{"r":7,"c":25,"v":0},{"r":7,"c":26,"v":0},{"r":7,"c":27,"v":0},{"r":7,"c":28,"v":0},{"r":7,"c":29,"v":0},{"r":7,"c":30,"v":0},{"r":7,"c":31,"v":0},{"r":7,"c":32,"v":0},{"r":7,"c":33,"v":0},{"r":7,"c":34,"v":0},{"r":7,"c":35,"v":0},{"r":7,"c":36,"v":0},{"r":7,"c":37,"v":0},{"r":7,"c":38,"v":0},{"r":7,"c":39,"v":0},
{"r":7,"c":40,"v":0},{"r":7,"c":41,"v":0},{"r":7,"c":42,"v":0},{"r":7,"c":43,"v":0},{"r":7,"c":44,"v":0},{"r":7,"c":45,"v":0},{"r":7,"c":46,"v":0},{"r":7,"c":47,"v":0},{"r":7,"c":48,"v":0},{"r":7,"c":49,"v":0},{"r":7,"c":50,"v":0},{"r":7,"c":51,"v":0},{"r":7,"c":52,"v":0},{"r":7,"c":53,"v":0},{"r":7,"c":54,"v":0},{"r":7,"c":55,"v":0},{"r":7,"c":56,"v":0},{"r":7,"c":57,"v":0},{"r":7,"c":58,"v":0.545},{"r":7,"c":59,"v":1},{"r":7,"c":60,"v":1},{"r":7,"c":61,"v":1},{"r":7,"c":62,"v":1},{"r":7,"c":63,"v":1},{"r":7,"c":64,"v":0.615},{"r":7,"c":65,"v":0},{"r":7,"c":66,"v":0},{"r":7,"c":67,"v":0},{"r":7,"c":68,"v":0},{"r":7,"c":69,"v":0},{"r":7,"c":70,"v":0.243},{"r":7,"c":71,"v":1},{"r":7,"c":72,"v":1},{"r":7,"c":73,"v":1},{"r":7,"c":74,"v":1},{"r":7,"c":75,"v":1},{"r":7,"c":76,"v":1},{"r":7,"c":77,"v":1},{"r":7,"c":78,"v":1},{"r":7,"c":79,"v":1},
{"r":7,"c":80,"v":1},{"r":7,"c":81,"v":1},{"r":7,"c":82,"v":1},{"r":7,"c":83,"v":1},{"r":7,"c":84,"v":1},{"r":7,"c":85,"v":1},{"r":7,"c":86,"v":1},{"r":7,"c":87,"v":1},{"r":7,"c":88,"v":1},{"r":7,"c":89,"v":1},{"r":7,"c":90,"v":1},{"r":7,"c":91,"v":1},{"r":7,"c":92,"v":1},{"r":7,"c":93,"v":1},{"r":7,"c":94,"v":1},{"r":7,"c":95,"v":1},{"r":7,"c":96,"v":1},{"r":7,"c":97,"v":1},{"r":7,"c":98,"v":1},{"r":7,"c":99,"v":1},{"r":7,"c":100,"v":1},{"r":7,"c":101,"v":1},{"r":7,"c":102,"v":1},{"r":7,"c":103,"v":1},{"r":7,"c":104,"v":1},{"r":7,"c":105,"v":1},{"r":7,"c":106,"v":1},{"r":7,"c":107,"v":1},{"r":7,"c":108,"v":1},{"r":7,"c":109,"v":1},{"r":7,"c":110,"v":1},{"r":7,"c":111,"v":1},{"r":7,"c":112,"v":1},{"r":7,"c":113,"v":1},{"r":7,"c":114,"v":1},{"r":7,"c":115,"v":1},{"r":7,"c":116,"v":1},{"r":7,"c":117,"v":1},{"r":7,"c":118,"v":1},{"r":7,"c":119,"v":1},
{"r":7,"c":120,"v":1},{"r":7,"c":121,"v":1},{"r":7,"c":122,"v":1},{"r":7,"c":123,"v":1},{"r":7,"c":124,"v":0},{"r":7,"c":125,"v":0},{"r":7,"c":126,"v":0},{"r":7,"c":127,"v":0},{"r":7,"c":128,"v":1},{"r":7,"c":129,"v":0},{"r":7,"c":130,"v":0},{"r":7,"c":131,"v":0},{"r":7,"c":132,"v":0},{"r":7,"c":133,"v":0},{"r":7,"c":134,"v":0},{"r":7,"c":135,"v":0},{"r":7,"c":136,"v":0},{"r":7,"c":137,"v":0},{"r":7,"c":138,"v":1},{"r":7,"c":139,"v":0},{"r":7,"c":140,"v":0},{"r":7,"c":141,"v":0},{"r":7,"c":142,"v":0},{"r":7,"c":143,"v":0},{"r":7,"c":144,"v":0},{"r":7,"c":145,"v":0},{"r":7,"c":146,"v":0},{"r":7,"c":147,"v":0},{"r":7,"c":148,"v":0},{"r":7,"c":149,"v":0},{"r":7,"c":150,"v":0},{"r":7,"c":151,"v":0},{"r":7,"c":152,"v":0},{"r":7,"c":153,"v":0},{"r":7,"c":154,"v":0},{"r":7,"c":155,"v":0},{"r":7,"c":156,"v":0},{"r":7,"c":157,"v":0},{"r":7,"c":158,"v":0},{"r":7,"c":159,"v":0}
]},
"layer":[
{"mark":{"type":"rect","strokeWidth":1},
 "encoding":{
  "x":{"field":"c","type":"ordinal","scale":{"paddingInner":0,"paddingOuter":0},"axis":{"orient":"bottom","values":[0,20,40,60,80,100,120,140],"labelAngle":0,"domain":false,"tickSize":-15,"tickWidth":2,"tickColor":"#000000","labelFontSize":49,"labelColor":"#000000","labelFont":"DejaVu Sans","labelPadding":17,"title":null}},
  "y":{"field":"r","type":"ordinal","scale":{"paddingInner":0,"paddingOuter":0},"axis":{"orient":"left","domain":false,"tickSize":-15,"tickWidth":2,"tickColor":"#000000","labelFontSize":49,"labelColor":"#000000","labelFont":"DejaVu Sans","labelPadding":18,"title":null}},
  "color":{"field":"v","type":"quantitative","scale":{"domain":[0,1],"range":["#008066","#ffff66"],"interpolate":"rgb"},"legend":null},
  "stroke":{"field":"v","type":"quantitative","scale":{"domain":[0,1],"range":["#008066","#ffff66"],"interpolate":"rgb"},"legend":null}
 }},
{"mark":{"type":"rect","opacity":0},
 "encoding":{
  "x":{"field":"c","type":"ordinal","axis":{"orient":"top","values":[0,20,40,60,80,100,120,140],"labels":false,"domain":false,"tickSize":-15,"tickWidth":2,"tickColor":"#000000","title":null}},
  "y":{"field":"r","type":"ordinal","axis":{"orient":"right","labels":false,"domain":false,"tickSize":-15,"tickWidth":2,"tickColor":"#000000","title":null}}
 }}
],
"resolve":{"axis":{"x":"independent","y":"independent"}}
}
